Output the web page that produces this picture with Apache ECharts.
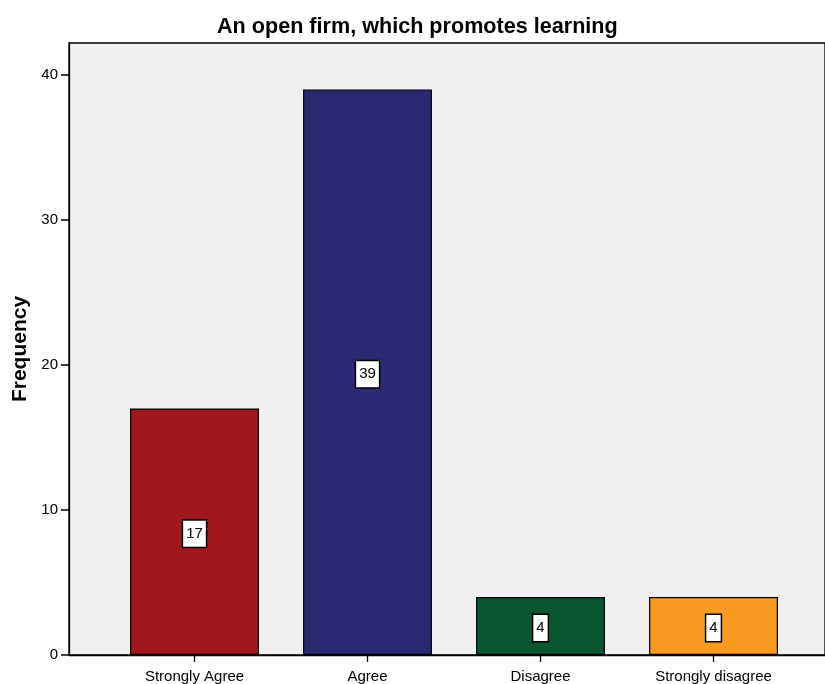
<!DOCTYPE html>
<html>
<head>
<meta charset="utf-8">
<script src="https://cdn.jsdelivr.net/npm/echarts@6/dist/echarts.min.js"></script>
<style>
  html, body { margin: 0; padding: 0; background: #fff; }
  #chart { width: 825px; height: 684px; }
</style>
</head>
<body>
<div id="chart"></div>
<script>
// Response categories and their counts
const categories = ['Strongly Agree', 'Agree', 'Disagree', 'Strongly disagree'];
const frequencies = [17, 39, 4, 4];
const barColors = ['#a1181c', '#292a72', '#0a5631', '#f99a21'];
const yTicks = [0, 10, 20, 30, 40];

const FONT = '"Liberation Sans Narrow", "Arial Narrow", "Liberation Sans", Arial, sans-serif';

const chart = echarts.init(document.getElementById('chart'), null, { renderer: 'canvas' });

chart.setOption({
  animation: false,
  backgroundColor: '#ffffff',
  title: {
    text: 'An open firm, which promotes learning',
    left: 212,
    top: 11,
    textStyle: { fontFamily: FONT, fontSize: 21.6, fontWeight: 'bold', color: '#000' }
  },
  grid: [
    // plot frame / background
    { left: 69, top: 43, right: -5, bottom: 29, show: true, backgroundColor: '#f0f0f0',
      borderColor: '#000', borderWidth: 1.3 },
    // category bands
    { left: 108, top: 43, right: 25, bottom: 29 }
  ],
  xAxis: [
    { gridIndex: 0, type: 'value', min: 0, max: 1, show: true,
      axisLine: { show: true, lineStyle: { color: '#000', width: 1.3 } },
      axisTick: { show: false }, axisLabel: { show: false }, splitLine: { show: false } },
    { gridIndex: 1, type: 'category', data: categories,
      axisLine: { show: false },
      axisTick: { show: true, alignWithLabel: true, length: 7, lineStyle: { color: '#000', width: 1.3 } },
      axisLabel: { color: '#000', fontFamily: FONT, fontSize: 15, margin: 14 } }
  ],
  yAxis: [
    { gridIndex: 0, type: 'value', min: 0, max: 1, show: false },
    { gridIndex: 1, type: 'value', min: 0, max: 42.2, offset: 39,
      name: 'Frequency', nameLocation: 'middle', nameGap: 38, nameRotate: 90,
      nameTextStyle: { fontFamily: FONT, fontSize: 21, fontWeight: 'bold', color: '#000' },
      axisLine: { show: true, lineStyle: { color: '#000', width: 1.3 } },
      axisTick: { show: true, length: 8, customValues: yTicks, lineStyle: { color: '#000', width: 1.5 } },
      axisLabel: { color: '#000', fontFamily: FONT, fontSize: 15, margin: 11, customValues: yTicks },
      splitLine: { show: false } }
  ],
  series: [{
    type: 'bar',
    xAxisIndex: 1,
    yAxisIndex: 1,
    barWidth: '74.5%',
    data: frequencies.map((v, i) => ({
      value: v,
      itemStyle: { color: barColors[i], borderColor: '#000', borderWidth: 1.2 }
    })),
    label: {
      show: true,
      position: 'inside',
      offset: [0, 2],
      color: '#000',
      fontFamily: FONT,
      fontSize: 15,
      backgroundColor: '#fff',
      borderColor: '#000',
      borderWidth: 1.5,
      padding: [6, 3, 5, 3]
    }
  }]
});
</script>
</body>
</html>
